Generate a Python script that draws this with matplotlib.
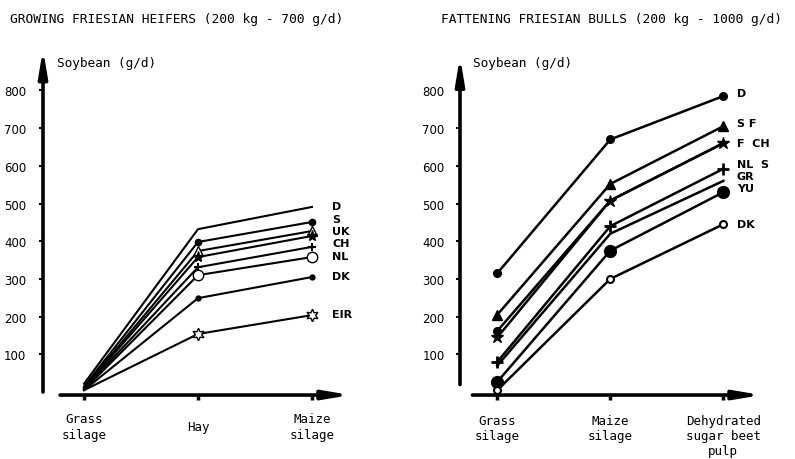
import matplotlib.pyplot as plt

W, H = 795, 460

heifer_feeds = ["Grass\nsilage", "Hay", "Maize\nsilage"]
bull_feeds = ["Grass\nsilage", "Maize\nsilage", "Dehydrated\nsugar beet\npulp"]
y_ticks = [100, 200, 300, 400, 500, 600, 700, 800]

# growing heifers, soybean g/d per feed
heifer_D = [22, 432, 491]
heifer_S = [15, 398, 451]
heifer_UK = [12, 374, 427]
heifer_CH = [10, 358, 414]
heifer_CH2 = [8, 331, 385]
heifer_NL = [6, 310, 358]
heifer_DK = [5, 249, 305]
heifer_EIR = [5, 154, 204]
heifer_labels = ["D", "S", "UK", "CH", "NL", "DK", "EIR"]
heifer_label_y = [494, 459, 428, 394, 361, 308, 207]

# fattening bulls
bull_D = [315, 670, 785]
bull_SF = [205, 552, 705]
bull_F = [162, 508, 660]
bull_CH = [145, 508, 660]
bull_NLS = [80, 440, 592]
bull_GR = [70, 420, 560]
bull_YU = [27, 375, 530]
bull_DK = [5, 300, 445]
bull_labels = ["D", "S F", "F  CH", "NL  S", "GR", "YU", "DK"]
bull_label_y = [792, 713, 660, 605, 574, 542, 447]

MONO = "DejaVu Sans Mono"

fig = plt.figure(figsize=(W / 100, H / 100), dpi=100)


def px_axes(x0, y0, x1, y1):
    return fig.add_axes([x0 / W, 1 - y1 / H, (x1 - x0) / W, (y1 - y0) / H])


def setup(ax, xlim, feeds, ybot, xstart, ytop, xpad, xva, ypad, lsp):
    ax.set_xlim(*xlim)
    ax.set_ylim(-10, 920)
    for s in ax.spines.values():
        s.set_visible(False)
    ax.set_yticks(y_ticks)
    ax.set_xticks(range(len(feeds)))
    ax.set_xticklabels(feeds, family=MONO, fontsize=9, linespacing=lsp)
    for lab in ax.get_xticklabels():
        lab.set_va(xva)
    ax.tick_params(axis='y', direction='out', length=3, width=1.5, pad=ypad, labelsize=8.5)
    ax.tick_params(axis='x', direction='out', length=3, width=2.5, pad=xpad)
    arrow = dict(arrowstyle='-|>,head_length=1.2,head_width=0.2', lw=2.6,
                 color='black', mutation_scale=13, shrinkA=0, shrinkB=0)
    ax.annotate('', xy=(xlim[0], ytop), xytext=(xlim[0], ybot), arrowprops=arrow,
                annotation_clip=False)
    ax.annotate('', xy=(2.34, -8), xytext=(xstart, -8), arrowprops=arrow,
                annotation_clip=False)


# left panel
ax1 = px_axes(43, 46.2, 353, 396.8)
setup(ax1, (-0.36, 2.36), heifer_feeds, 0, -0.21, 910, 19, 'center', 9, 1.3)
heifer_series = [heifer_D, heifer_S, heifer_UK, heifer_CH, heifer_CH2,
                 heifer_NL, heifer_DK, heifer_EIR]
heifer_styles = [
    dict(marker=None),
    dict(marker='o', ms=4.5),
    dict(marker='^', ms=7, mfc='white'),
    dict(marker='*', ms=8),
    dict(marker='+', ms=6, mew=1.5),
    dict(marker='o', ms=7.5, mfc='white'),
    dict(marker='o', ms=3.5),
    dict(marker=(6, 1, 0), ms=9, mfc='white', mew=1),
]
for vals, st in zip(heifer_series, heifer_styles):
    ax1.plot(range(3), vals, color='black', lw=1.5, mec='black',
             markevery=[1, 2], clip_on=False, **st)
for lab, y in zip(heifer_labels, heifer_label_y):
    ax1.text(2.18, y, lab, fontsize=8, fontweight='bold', va='center', ha='left')

# right panel
ax2 = px_axes(460, 46.2, 764, 396.8)
setup(ax2, (-0.33, 2.36), bull_feeds, 20, -0.22, 890, 10, 'top', 8, 1.2)
bull_series = [bull_D, bull_SF, bull_F, bull_CH, bull_NLS, bull_GR, bull_YU, bull_DK]
bull_styles = [
    dict(marker='o', ms=5.5),
    dict(marker='^', ms=7),
    dict(marker='o', ms=5.5, markevery=[0]),
    dict(marker='*', ms=9),
    dict(marker='+', ms=8, mew=2),
    dict(marker=None),
    dict(marker='o', ms=8.5),
    dict(marker='o', ms=5, mfc='white', mew=1.5),
]
for vals, st in zip(bull_series, bull_styles):
    ax2.plot(range(3), vals, color='black', lw=1.8, mec='black', clip_on=False, **st)
for lab, y in zip(bull_labels, bull_label_y):
    ax2.text(2.12, y, lab, fontsize=8, fontweight='bold', va='center', ha='left')

# titles and axis captions
fig.text(10 / W, 1 - 20 / H, "GROWING FRIESIAN HEIFERS (200 kg - 700 g/d)",
         family=MONO, fontsize=9.3, va='center', ha='left')
fig.text(441 / W, 1 - 20 / H, "FATTENING FRIESIAN BULLS (200 kg - 1000 g/d)",
         family=MONO, fontsize=9.3, va='center', ha='left')
fig.text(57 / W, 1 - 63 / H, "Soybean (g/d)", family=MONO, fontsize=9.2,
         va='center', ha='left')
fig.text(473 / W, 1 - 63 / H, "Soybean (g/d)", family=MONO, fontsize=9.2,
         va='center', ha='left')

fig.savefig("out.png", dpi=100)
